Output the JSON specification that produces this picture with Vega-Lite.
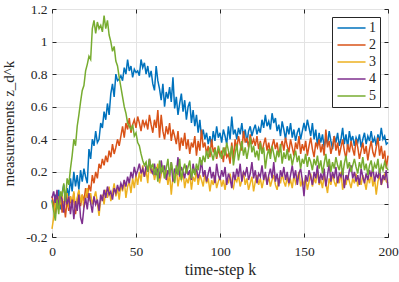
{
"$schema": "https://vega.github.io/schema/vega-lite/v6.json",
"width": 336, "height": 228,
"autosize": {"type": "none"},
"padding": {"left": 52, "top": 9, "right": 11, "bottom": 45},
"config": {
 "font": "Liberation Serif",
 "view": {"stroke": "#262626", "strokeWidth": 1},
 "axis": {"domain": false, "grid": true, "gridColor": "#e3e3e3", "gridWidth": 1, "tickColor": "#262626", "tickSize": -4, "labelFont": "Liberation Serif", "labelFontSize": 13.5, "labelColor": "#262626", "labelOverlap": false, "titleFont": "Liberation Serif", "titleFontSize": 16, "titleFontWeight": "normal", "titleColor": "#262626"},
 "legend": {"orient": "none", "legendX": 280, "legendY": 8, "title": null, "symbolType": "M-1,0H4.1", "symbolSize": 121, "symbolStrokeWidth": 1.5, "labelFont": "Liberation Serif", "labelFontSize": 14, "labelColor": "#262626", "labelAlign": "right", "labelOffset": 26, "fillColor": "white", "strokeColor": "#262626", "padding": 4, "rowPadding": 3}
},
"encoding": {
 "x": {"field": "k", "type": "quantitative", "scale": {"domain": [0, 200], "nice": false}, "axis": null},
 "y": {"field": "v", "type": "quantitative", "scale": {"domain": [-0.2, 1.2], "nice": false}, "axis": null}
},
"layer": [
   {"data": {"values": [
{"k":0,"v":0.03},{"k":1,"v":-0.02},{"k":2,"v":0.06},{"k":3,"v":0.01},{"k":4,"v":0.09},{"k":5,"v":-0.03},{"k":6,"v":0.07},{"k":7,"v":0.12},{"k":8,"v":0.02},{"k":9,"v":0.10},
{"k":10,"v":0.05},{"k":11,"v":0.16},{"k":12,"v":0.08},{"k":13,"v":0.20},{"k":14,"v":0.11},{"k":15,"v":0.18},{"k":16,"v":0.09},{"k":17,"v":0.21},{"k":18,"v":0.14},{"k":19,"v":0.22},
{"k":20,"v":0.17},{"k":21,"v":0.13},{"k":22,"v":0.34},{"k":23,"v":0.28},{"k":24,"v":0.40},{"k":25,"v":0.36},{"k":26,"v":0.45},{"k":27,"v":0.38},{"k":28,"v":0.40},{"k":29,"v":0.50},
{"k":30,"v":0.47},{"k":31,"v":0.57},{"k":32,"v":0.52},{"k":33,"v":0.62},{"k":34,"v":0.55},{"k":35,"v":0.68},{"k":36,"v":0.74},{"k":37,"v":0.66},{"k":38,"v":0.80},{"k":39,"v":0.76},
{"k":40,"v":0.77},{"k":41,"v":0.79},{"k":42,"v":0.76},{"k":43,"v":0.84},{"k":44,"v":0.80},{"k":45,"v":0.89},{"k":46,"v":0.82},{"k":47,"v":0.85},{"k":48,"v":0.78},{"k":49,"v":0.83},
{"k":50,"v":0.81},{"k":51,"v":0.82},{"k":52,"v":0.79},{"k":53,"v":0.89},{"k":54,"v":0.84},{"k":55,"v":0.87},{"k":56,"v":0.80},{"k":57,"v":0.85},{"k":58,"v":0.78},{"k":59,"v":0.82},
{"k":60,"v":0.74},{"k":61,"v":0.70},{"k":62,"v":0.85},{"k":63,"v":0.76},{"k":64,"v":0.71},{"k":65,"v":0.64},{"k":66,"v":0.74},{"k":67,"v":0.60},{"k":68,"v":0.69},{"k":69,"v":0.65},
{"k":70,"v":0.72},{"k":71,"v":0.63},{"k":72,"v":0.78},{"k":73,"v":0.59},{"k":74,"v":0.66},{"k":75,"v":0.55},{"k":76,"v":0.62},{"k":77,"v":0.68},{"k":78,"v":0.57},{"k":79,"v":0.64},
{"k":80,"v":0.52},{"k":81,"v":0.60},{"k":82,"v":0.63},{"k":83,"v":0.50},{"k":84,"v":0.58},{"k":85,"v":0.48},{"k":86,"v":0.55},{"k":87,"v":0.44},{"k":88,"v":0.52},{"k":89,"v":0.41},
{"k":90,"v":0.46},{"k":91,"v":0.40},{"k":92,"v":0.44},{"k":93,"v":0.37},{"k":94,"v":0.42},{"k":95,"v":0.36},{"k":96,"v":0.45},{"k":97,"v":0.39},{"k":98,"v":0.48},{"k":99,"v":0.41},
{"k":100,"v":0.44},{"k":101,"v":0.38},{"k":102,"v":0.46},{"k":103,"v":0.42},{"k":104,"v":0.37},{"k":105,"v":0.48},{"k":106,"v":0.40},{"k":107,"v":0.54},{"k":108,"v":0.43},{"k":109,"v":0.46},
{"k":110,"v":0.40},{"k":111,"v":0.47},{"k":112,"v":0.43},{"k":113,"v":0.50},{"k":114,"v":0.41},{"k":115,"v":0.46},{"k":116,"v":0.38},{"k":117,"v":0.45},{"k":118,"v":0.48},{"k":119,"v":0.42},
{"k":120,"v":0.46},{"k":121,"v":0.49},{"k":122,"v":0.43},{"k":123,"v":0.47},{"k":124,"v":0.44},{"k":125,"v":0.52},{"k":126,"v":0.47},{"k":127,"v":0.55},{"k":128,"v":0.48},{"k":129,"v":0.51},
{"k":130,"v":0.46},{"k":131,"v":0.56},{"k":132,"v":0.50},{"k":133,"v":0.53},{"k":134,"v":0.45},{"k":135,"v":0.49},{"k":136,"v":0.42},{"k":137,"v":0.51},{"k":138,"v":0.46},{"k":139,"v":0.40},
{"k":140,"v":0.48},{"k":141,"v":0.43},{"k":142,"v":0.50},{"k":143,"v":0.41},{"k":144,"v":0.46},{"k":145,"v":0.39},{"k":146,"v":0.44},{"k":147,"v":0.47},{"k":148,"v":0.40},{"k":149,"v":0.45},
{"k":150,"v":0.50},{"k":151,"v":0.45},{"k":152,"v":0.52},{"k":153,"v":0.47},{"k":154,"v":0.42},{"k":155,"v":0.50},{"k":156,"v":0.40},{"k":157,"v":0.46},{"k":158,"v":0.36},{"k":159,"v":0.44},
{"k":160,"v":0.38},{"k":161,"v":0.43},{"k":162,"v":0.35},{"k":163,"v":0.41},{"k":164,"v":0.37},{"k":165,"v":0.45},{"k":166,"v":0.39},{"k":167,"v":0.34},{"k":168,"v":0.42},{"k":169,"v":0.38},
{"k":170,"v":0.44},{"k":171,"v":0.36},{"k":172,"v":0.40},{"k":173,"v":0.47},{"k":174,"v":0.37},{"k":175,"v":0.43},{"k":176,"v":0.35},{"k":177,"v":0.45},{"k":178,"v":0.39},{"k":179,"v":0.42},
{"k":180,"v":0.36},{"k":181,"v":0.41},{"k":182,"v":0.38},{"k":183,"v":0.43},{"k":184,"v":0.35},{"k":185,"v":0.40},{"k":186,"v":0.44},{"k":187,"v":0.37},{"k":188,"v":0.42},{"k":189,"v":0.39},
{"k":190,"v":0.45},{"k":191,"v":0.38},{"k":192,"v":0.41},{"k":193,"v":0.36},{"k":194,"v":0.43},{"k":195,"v":0.39},{"k":196,"v":0.47},{"k":197,"v":0.40},{"k":198,"v":0.42},{"k":199,"v":0.37},{"k":200,"v":0.38}
   ]},
   "mark": {"type": "line", "strokeWidth": 1.5},
   "encoding": {
    "x": {"field": "k", "type": "quantitative", "axis": {"values": [0, 50, 100, 150, 200], "title": "time-step k", "titlePadding": 4, "labelPadding": 11, "labelFont": "Liberation Serif", "labelOverlap": false, "labelFlush": false}},
    "y": {"field": "v", "type": "quantitative", "axis": {"values": [-0.2, 0, 0.2, 0.4, 0.6, 0.8, 1, 1.2], "labelExpr": "'' + datum.value", "labelPadding": 9, "labelFont": "Liberation Serif", "labelOverlap": false, "labelFlush": false, "title": "measurements z_d^k", "titleFontSize": 15, "titlePadding": 9}},
    "color": {"datum": "1", "type": "nominal", "scale": {"domain": ["1", "2", "3", "4", "5"], "range": ["#0072BD", "#D95319", "#EDB120", "#7E2F8E", "#77AC30"]}}
   }},
   {"data": {"values": [
{"k":0,"v":0.05},{"k":1,"v":0.00},{"k":2,"v":-0.06},{"k":3,"v":0.04},{"k":4,"v":-0.03},{"k":5,"v":0.06},{"k":6,"v":-0.05},{"k":7,"v":0.02},{"k":8,"v":-0.08},{"k":9,"v":0.03},
{"k":10,"v":-0.04},{"k":11,"v":0.05},{"k":12,"v":-0.02},{"k":13,"v":0.07},{"k":14,"v":-0.06},{"k":15,"v":0.03},{"k":16,"v":0.08},{"k":17,"v":-0.01},{"k":18,"v":0.06},{"k":19,"v":0.02},
{"k":20,"v":0.10},{"k":21,"v":0.04},{"k":22,"v":0.12},{"k":23,"v":0.08},{"k":24,"v":0.18},{"k":25,"v":0.13},{"k":26,"v":0.20},{"k":27,"v":0.16},{"k":28,"v":0.25},{"k":29,"v":0.22},
{"k":30,"v":0.28},{"k":31,"v":0.24},{"k":32,"v":0.30},{"k":33,"v":0.26},{"k":34,"v":0.33},{"k":35,"v":0.29},{"k":36,"v":0.37},{"k":37,"v":0.31},{"k":38,"v":0.35},{"k":39,"v":0.40},
{"k":40,"v":0.36},{"k":41,"v":0.42},{"k":42,"v":0.48},{"k":43,"v":0.41},{"k":44,"v":0.50},{"k":45,"v":0.46},{"k":46,"v":0.53},{"k":47,"v":0.44},{"k":48,"v":0.49},{"k":49,"v":0.52},
{"k":50,"v":0.47},{"k":51,"v":0.54},{"k":52,"v":0.50},{"k":53,"v":0.45},{"k":54,"v":0.52},{"k":55,"v":0.48},{"k":56,"v":0.51},{"k":57,"v":0.46},{"k":58,"v":0.55},{"k":59,"v":0.49},
{"k":60,"v":0.44},{"k":61,"v":0.52},{"k":62,"v":0.47},{"k":63,"v":0.58},{"k":64,"v":0.41},{"k":65,"v":0.55},{"k":66,"v":0.45},{"k":67,"v":0.40},{"k":68,"v":0.48},{"k":69,"v":0.43},
{"k":70,"v":0.50},{"k":71,"v":0.39},{"k":72,"v":0.46},{"k":73,"v":0.42},{"k":74,"v":0.37},{"k":75,"v":0.45},{"k":76,"v":0.33},{"k":77,"v":0.41},{"k":78,"v":0.36},{"k":79,"v":0.44},
{"k":80,"v":0.34},{"k":81,"v":0.40},{"k":82,"v":0.31},{"k":83,"v":0.38},{"k":84,"v":0.35},{"k":85,"v":0.42},{"k":86,"v":0.30},{"k":87,"v":0.39},{"k":88,"v":0.33},{"k":89,"v":0.46},
{"k":90,"v":0.35},{"k":91,"v":0.38},{"k":92,"v":0.31},{"k":93,"v":0.36},{"k":94,"v":0.29},{"k":95,"v":0.40},{"k":96,"v":0.32},{"k":97,"v":0.35},{"k":98,"v":0.28},{"k":99,"v":0.34},
{"k":100,"v":0.30},{"k":101,"v":0.33},{"k":102,"v":0.26},{"k":103,"v":0.35},{"k":104,"v":0.29},{"k":105,"v":0.31},{"k":106,"v":0.25},{"k":107,"v":0.38},{"k":108,"v":0.28},{"k":109,"v":0.40},
{"k":110,"v":0.34},{"k":111,"v":0.42},{"k":112,"v":0.37},{"k":113,"v":0.33},{"k":114,"v":0.45},{"k":115,"v":0.38},{"k":116,"v":0.41},{"k":117,"v":0.35},{"k":118,"v":0.43},{"k":119,"v":0.37},
{"k":120,"v":0.40},{"k":121,"v":0.36},{"k":122,"v":0.42},{"k":123,"v":0.34},{"k":124,"v":0.39},{"k":125,"v":0.32},{"k":126,"v":0.37},{"k":127,"v":0.41},{"k":128,"v":0.33},{"k":129,"v":0.38},
{"k":130,"v":0.31},{"k":131,"v":0.36},{"k":132,"v":0.40},{"k":133,"v":0.34},{"k":134,"v":0.38},{"k":135,"v":0.30},{"k":136,"v":0.35},{"k":137,"v":0.39},{"k":138,"v":0.33},{"k":139,"v":0.41},
{"k":140,"v":0.36},{"k":141,"v":0.32},{"k":142,"v":0.40},{"k":143,"v":0.35},{"k":144,"v":0.30},{"k":145,"v":0.38},{"k":146,"v":0.34},{"k":147,"v":0.42},{"k":148,"v":0.31},{"k":149,"v":0.37},
{"k":150,"v":0.33},{"k":151,"v":0.39},{"k":152,"v":0.30},{"k":153,"v":0.36},{"k":154,"v":0.41},{"k":155,"v":0.34},{"k":156,"v":0.29},{"k":157,"v":0.38},{"k":158,"v":0.35},{"k":159,"v":0.40},
{"k":160,"v":0.32},{"k":161,"v":0.37},{"k":162,"v":0.30},{"k":163,"v":0.46},{"k":164,"v":0.35},{"k":165,"v":0.39},{"k":166,"v":0.31},{"k":167,"v":0.36},{"k":168,"v":0.42},{"k":169,"v":0.33},
{"k":170,"v":0.38},{"k":171,"v":0.30},{"k":172,"v":0.35},{"k":173,"v":0.40},{"k":174,"v":0.33},{"k":175,"v":0.28},{"k":176,"v":0.37},{"k":177,"v":0.32},{"k":178,"v":0.39},{"k":179,"v":0.34},
{"k":180,"v":0.30},{"k":181,"v":0.40},{"k":182,"v":0.35},{"k":183,"v":0.28},{"k":184,"v":0.33},{"k":185,"v":0.38},{"k":186,"v":0.31},{"k":187,"v":0.36},{"k":188,"v":0.27},{"k":189,"v":0.34},
{"k":190,"v":0.39},{"k":191,"v":0.32},{"k":192,"v":0.29},{"k":193,"v":0.35},{"k":194,"v":0.41},{"k":195,"v":0.30},{"k":196,"v":0.36},{"k":197,"v":0.28},{"k":198,"v":0.33},{"k":199,"v":0.22},{"k":200,"v":0.30}
   ]},
   "mark": {"type": "line", "strokeWidth": 1.5},
   "encoding": {"color": {"datum": "2", "type": "nominal"}}},
   {"data": {"values": [
{"k":0,"v":-0.15},{"k":1,"v":-0.08},{"k":2,"v":0.02},{"k":3,"v":-0.03},{"k":4,"v":0.05},{"k":5,"v":0.00},{"k":6,"v":0.08},{"k":7,"v":-0.04},{"k":8,"v":0.03},{"k":9,"v":0.07},
{"k":10,"v":-0.02},{"k":11,"v":0.05},{"k":12,"v":0.00},{"k":13,"v":0.08},{"k":14,"v":-0.03},{"k":15,"v":0.04},{"k":16,"v":0.09},{"k":17,"v":0.01},{"k":18,"v":0.06},{"k":19,"v":-0.02},
{"k":20,"v":0.05},{"k":21,"v":0.10},{"k":22,"v":0.02},{"k":23,"v":0.07},{"k":24,"v":0.00},{"k":25,"v":0.04},{"k":26,"v":0.08},{"k":27,"v":0.01},{"k":28,"v":-0.07},{"k":29,"v":0.03},
{"k":30,"v":0.06},{"k":31,"v":0.00},{"k":32,"v":0.09},{"k":33,"v":0.04},{"k":34,"v":0.11},{"k":35,"v":0.02},{"k":36,"v":0.07},{"k":37,"v":0.13},{"k":38,"v":0.05},{"k":39,"v":0.10},
{"k":40,"v":0.03},{"k":41,"v":0.12},{"k":42,"v":0.08},{"k":43,"v":0.15},{"k":44,"v":0.04},{"k":45,"v":0.11},{"k":46,"v":0.14},{"k":47,"v":0.07},{"k":48,"v":0.16},{"k":49,"v":0.10},
{"k":50,"v":0.18},{"k":51,"v":0.12},{"k":52,"v":0.20},{"k":53,"v":0.14},{"k":54,"v":0.24},{"k":55,"v":0.17},{"k":56,"v":0.21},{"k":57,"v":0.13},{"k":58,"v":0.27},{"k":59,"v":0.19},
{"k":60,"v":0.22},{"k":61,"v":0.15},{"k":62,"v":0.20},{"k":63,"v":0.25},{"k":64,"v":0.13},{"k":65,"v":0.18},{"k":66,"v":0.23},{"k":67,"v":0.16},{"k":68,"v":0.21},{"k":69,"v":0.12},
{"k":70,"v":0.19},{"k":71,"v":0.06},{"k":72,"v":0.17},{"k":73,"v":0.14},{"k":74,"v":0.22},{"k":75,"v":0.11},{"k":76,"v":0.18},{"k":77,"v":0.15},{"k":78,"v":0.20},{"k":79,"v":0.10},
{"k":80,"v":0.16},{"k":81,"v":0.13},{"k":82,"v":0.19},{"k":83,"v":0.09},{"k":84,"v":0.17},{"k":85,"v":0.14},{"k":86,"v":0.21},{"k":87,"v":0.12},{"k":88,"v":0.18},{"k":89,"v":0.15},
{"k":90,"v":0.11},{"k":91,"v":0.19},{"k":92,"v":0.13},{"k":93,"v":0.16},{"k":94,"v":0.08},{"k":95,"v":0.15},{"k":96,"v":0.12},{"k":97,"v":0.18},{"k":98,"v":0.10},{"k":99,"v":0.14},
{"k":100,"v":0.17},{"k":101,"v":0.11},{"k":102,"v":0.15},{"k":103,"v":0.09},{"k":104,"v":0.16},{"k":105,"v":0.13},{"k":106,"v":0.19},{"k":107,"v":0.12},{"k":108,"v":0.10},{"k":109,"v":0.16},
{"k":110,"v":0.14},{"k":111,"v":0.18},{"k":112,"v":0.11},{"k":113,"v":0.15},{"k":114,"v":0.20},{"k":115,"v":0.12},{"k":116,"v":0.16},{"k":117,"v":0.09},{"k":118,"v":0.13},{"k":119,"v":0.17},
{"k":120,"v":0.08},{"k":121,"v":0.14},{"k":122,"v":0.18},{"k":123,"v":0.12},{"k":124,"v":0.16},{"k":125,"v":0.10},{"k":126,"v":0.15},{"k":127,"v":0.19},{"k":128,"v":0.13},{"k":129,"v":0.17},
{"k":130,"v":0.11},{"k":131,"v":0.15},{"k":132,"v":0.18},{"k":133,"v":0.12},{"k":134,"v":0.09},{"k":135,"v":0.16},{"k":136,"v":0.13},{"k":137,"v":0.19},{"k":138,"v":0.14},{"k":139,"v":0.11},
{"k":140,"v":0.17},{"k":141,"v":0.12},{"k":142,"v":0.15},{"k":143,"v":0.10},{"k":144,"v":0.18},{"k":145,"v":0.13},{"k":146,"v":0.16},{"k":147,"v":0.20},{"k":148,"v":0.11},{"k":149,"v":0.15},
{"k":150,"v":0.12},{"k":151,"v":0.17},{"k":152,"v":0.09},{"k":153,"v":0.14},{"k":154,"v":0.19},{"k":155,"v":0.11},{"k":156,"v":0.16},{"k":157,"v":0.13},{"k":158,"v":0.21},{"k":159,"v":0.12},
{"k":160,"v":0.15},{"k":161,"v":0.10},{"k":162,"v":0.18},{"k":163,"v":0.13},{"k":164,"v":0.07},{"k":165,"v":0.16},{"k":166,"v":0.12},{"k":167,"v":0.19},{"k":168,"v":0.14},{"k":169,"v":0.11},
{"k":170,"v":0.17},{"k":171,"v":0.13},{"k":172,"v":0.20},{"k":173,"v":0.09},{"k":174,"v":0.15},{"k":175,"v":0.12},{"k":176,"v":0.18},{"k":177,"v":0.14},{"k":178,"v":0.10},{"k":179,"v":0.16},
{"k":180,"v":0.13},{"k":181,"v":0.19},{"k":182,"v":0.11},{"k":183,"v":0.16},{"k":184,"v":0.12},{"k":185,"v":0.18},{"k":186,"v":0.14},{"k":187,"v":0.09},{"k":188,"v":0.17},{"k":189,"v":0.13},
{"k":190,"v":0.20},{"k":191,"v":0.11},{"k":192,"v":0.16},{"k":193,"v":0.06},{"k":194,"v":0.14},{"k":195,"v":0.18},{"k":196,"v":0.12},{"k":197,"v":0.15},{"k":198,"v":0.19},{"k":199,"v":0.14},{"k":200,"v":0.13}
   ]},
   "mark": {"type": "line", "strokeWidth": 1.5},
   "encoding": {"color": {"datum": "3", "type": "nominal"}}},
   {"data": {"values": [
{"k":0,"v":0.04},{"k":1,"v":0.08},{"k":2,"v":0.01},{"k":3,"v":0.09},{"k":4,"v":-0.02},{"k":5,"v":0.06},{"k":6,"v":0.03},{"k":7,"v":-0.05},{"k":8,"v":0.07},{"k":9,"v":0.00},
{"k":10,"v":0.05},{"k":11,"v":-0.06},{"k":12,"v":0.03},{"k":13,"v":-0.09},{"k":14,"v":0.02},{"k":15,"v":-0.04},{"k":16,"v":0.06},{"k":17,"v":-0.08},{"k":18,"v":-0.12},{"k":19,"v":-0.02},
{"k":20,"v":0.04},{"k":21,"v":-0.03},{"k":22,"v":0.07},{"k":23,"v":0.01},{"k":24,"v":-0.05},{"k":25,"v":0.05},{"k":26,"v":0.00},{"k":27,"v":0.03},{"k":28,"v":-0.04},{"k":29,"v":0.06},
{"k":30,"v":0.02},{"k":31,"v":0.09},{"k":32,"v":0.04},{"k":33,"v":0.11},{"k":34,"v":0.06},{"k":35,"v":0.08},{"k":36,"v":0.03},{"k":37,"v":0.10},{"k":38,"v":0.07},{"k":39,"v":0.12},
{"k":40,"v":0.08},{"k":41,"v":0.13},{"k":42,"v":0.10},{"k":43,"v":0.15},{"k":44,"v":0.11},{"k":45,"v":0.17},{"k":46,"v":0.13},{"k":47,"v":0.20},{"k":48,"v":0.16},{"k":49,"v":0.23},
{"k":50,"v":0.18},{"k":51,"v":0.21},{"k":52,"v":0.25},{"k":53,"v":0.19},{"k":54,"v":0.22},{"k":55,"v":0.17},{"k":56,"v":0.24},{"k":57,"v":0.20},{"k":58,"v":0.28},{"k":59,"v":0.21},
{"k":60,"v":0.19},{"k":61,"v":0.25},{"k":62,"v":0.18},{"k":63,"v":0.22},{"k":64,"v":0.16},{"k":65,"v":0.27},{"k":66,"v":0.20},{"k":67,"v":0.24},{"k":68,"v":0.15},{"k":69,"v":0.21},
{"k":70,"v":0.18},{"k":71,"v":0.26},{"k":72,"v":0.14},{"k":73,"v":0.22},{"k":74,"v":0.19},{"k":75,"v":0.29},{"k":76,"v":0.17},{"k":77,"v":0.23},{"k":78,"v":0.20},{"k":79,"v":0.16},
{"k":80,"v":0.24},{"k":81,"v":0.18},{"k":82,"v":0.21},{"k":83,"v":0.15},{"k":84,"v":0.25},{"k":85,"v":0.19},{"k":86,"v":0.22},{"k":87,"v":0.16},{"k":88,"v":0.20},{"k":89,"v":0.27},
{"k":90,"v":0.17},{"k":91,"v":0.21},{"k":92,"v":0.14},{"k":93,"v":0.19},{"k":94,"v":0.23},{"k":95,"v":0.16},{"k":96,"v":0.20},{"k":97,"v":0.13},{"k":98,"v":0.25},{"k":99,"v":0.18},
{"k":100,"v":0.15},{"k":101,"v":0.21},{"k":102,"v":0.17},{"k":103,"v":0.23},{"k":104,"v":0.12},{"k":105,"v":0.19},{"k":106,"v":0.16},{"k":107,"v":0.10},{"k":108,"v":0.20},{"k":109,"v":0.15},
{"k":110,"v":0.22},{"k":111,"v":0.17},{"k":112,"v":0.25},{"k":113,"v":0.14},{"k":114,"v":0.20},{"k":115,"v":0.18},{"k":116,"v":0.23},{"k":117,"v":0.15},{"k":118,"v":0.19},{"k":119,"v":0.26},
{"k":120,"v":0.16},{"k":121,"v":0.21},{"k":122,"v":0.13},{"k":123,"v":0.19},{"k":124,"v":0.17},{"k":125,"v":0.24},{"k":126,"v":0.15},{"k":127,"v":0.20},{"k":128,"v":0.12},{"k":129,"v":0.18},
{"k":130,"v":0.22},{"k":131,"v":0.16},{"k":132,"v":0.26},{"k":133,"v":0.14},{"k":134,"v":0.19},{"k":135,"v":0.11},{"k":136,"v":0.21},{"k":137,"v":0.17},{"k":138,"v":0.23},{"k":139,"v":0.15},
{"k":140,"v":0.20},{"k":141,"v":0.13},{"k":142,"v":0.18},{"k":143,"v":0.24},{"k":144,"v":0.16},{"k":145,"v":0.21},{"k":146,"v":0.12},{"k":147,"v":0.19},{"k":148,"v":0.22},{"k":149,"v":0.15},
{"k":150,"v":0.05},{"k":151,"v":0.18},{"k":152,"v":0.14},{"k":153,"v":0.21},{"k":154,"v":0.17},{"k":155,"v":0.12},{"k":156,"v":0.20},{"k":157,"v":0.16},{"k":158,"v":0.24},{"k":159,"v":0.13},
{"k":160,"v":0.19},{"k":161,"v":0.15},{"k":162,"v":0.22},{"k":163,"v":0.11},{"k":164,"v":0.18},{"k":165,"v":0.25},{"k":166,"v":0.14},{"k":167,"v":0.20},{"k":168,"v":0.16},{"k":169,"v":0.23},
{"k":170,"v":0.13},{"k":171,"v":0.19},{"k":172,"v":0.17},{"k":173,"v":0.22},{"k":174,"v":0.10},{"k":175,"v":0.18},{"k":176,"v":0.15},{"k":177,"v":0.21},{"k":178,"v":0.24},{"k":179,"v":0.16},
{"k":180,"v":0.20},{"k":181,"v":0.14},{"k":182,"v":0.18},{"k":183,"v":0.12},{"k":184,"v":0.22},{"k":185,"v":0.17},{"k":186,"v":0.13},{"k":187,"v":0.19},{"k":188,"v":0.15},{"k":189,"v":0.21},
{"k":190,"v":0.17},{"k":191,"v":0.23},{"k":192,"v":0.14},{"k":193,"v":0.19},{"k":194,"v":0.16},{"k":195,"v":0.22},{"k":196,"v":0.12},{"k":197,"v":0.18},{"k":198,"v":0.15},{"k":199,"v":0.21},{"k":200,"v":0.10}
   ]},
   "mark": {"type": "line", "strokeWidth": 1.5},
   "encoding": {"color": {"datum": "4", "type": "nominal"}}},
   {"data": {"values": [
{"k":0,"v":0.02},{"k":1,"v":-0.04},{"k":2,"v":-0.10},{"k":3,"v":0.03},{"k":4,"v":-0.06},{"k":5,"v":0.08},{"k":6,"v":0.05},{"k":7,"v":0.13},{"k":8,"v":0.02},{"k":9,"v":0.16},
{"k":10,"v":0.12},{"k":11,"v":0.22},{"k":12,"v":0.30},{"k":13,"v":0.40},{"k":14,"v":0.36},{"k":15,"v":0.48},{"k":16,"v":0.55},{"k":17,"v":0.63},{"k":18,"v":0.70},{"k":19,"v":0.73},
{"k":20,"v":0.82},{"k":21,"v":0.86},{"k":22,"v":0.91},{"k":23,"v":0.89},{"k":24,"v":1.08},{"k":25,"v":1.13},{"k":26,"v":1.05},{"k":27,"v":1.12},{"k":28,"v":1.08},{"k":29,"v":1.10},
{"k":30,"v":1.06},{"k":31,"v":1.16},{"k":32,"v":1.08},{"k":33,"v":1.13},{"k":34,"v":1.04},{"k":35,"v":1.00},{"k":36,"v":0.94},{"k":37,"v":0.97},{"k":38,"v":0.88},{"k":39,"v":0.85},
{"k":40,"v":0.78},{"k":41,"v":0.72},{"k":42,"v":0.66},{"k":43,"v":0.60},{"k":44,"v":0.56},{"k":45,"v":0.50},{"k":46,"v":0.48},{"k":47,"v":0.46},{"k":48,"v":0.49},{"k":49,"v":0.42},
{"k":50,"v":0.44},{"k":51,"v":0.38},{"k":52,"v":0.36},{"k":53,"v":0.31},{"k":54,"v":0.27},{"k":55,"v":0.24},{"k":56,"v":0.26},{"k":57,"v":0.20},{"k":58,"v":0.28},{"k":59,"v":0.22},
{"k":60,"v":0.25},{"k":61,"v":0.18},{"k":62,"v":0.23},{"k":63,"v":0.14},{"k":64,"v":0.27},{"k":65,"v":0.19},{"k":66,"v":0.24},{"k":67,"v":0.16},{"k":68,"v":0.22},{"k":69,"v":0.28},
{"k":70,"v":0.17},{"k":71,"v":0.26},{"k":72,"v":0.20},{"k":73,"v":0.13},{"k":74,"v":0.24},{"k":75,"v":0.18},{"k":76,"v":0.28},{"k":77,"v":0.15},{"k":78,"v":0.21},{"k":79,"v":0.25},
{"k":80,"v":0.19},{"k":81,"v":0.23},{"k":82,"v":0.27},{"k":83,"v":0.16},{"k":84,"v":0.22},{"k":85,"v":0.18},{"k":86,"v":0.25},{"k":87,"v":0.21},{"k":88,"v":0.29},{"k":89,"v":0.24},
{"k":90,"v":0.30},{"k":91,"v":0.26},{"k":92,"v":0.33},{"k":93,"v":0.28},{"k":94,"v":0.35},{"k":95,"v":0.31},{"k":96,"v":0.27},{"k":97,"v":0.34},{"k":98,"v":0.29},{"k":99,"v":0.36},
{"k":100,"v":0.32},{"k":101,"v":0.28},{"k":102,"v":0.35},{"k":103,"v":0.30},{"k":104,"v":0.38},{"k":105,"v":0.33},{"k":106,"v":0.29},{"k":107,"v":0.36},{"k":108,"v":0.24},{"k":109,"v":0.31},
{"k":110,"v":0.37},{"k":111,"v":0.27},{"k":112,"v":0.33},{"k":113,"v":0.39},{"k":114,"v":0.30},{"k":115,"v":0.35},{"k":116,"v":0.28},{"k":117,"v":0.34},{"k":118,"v":0.41},{"k":119,"v":0.32},
{"k":120,"v":0.36},{"k":121,"v":0.29},{"k":122,"v":0.33},{"k":123,"v":0.27},{"k":124,"v":0.38},{"k":125,"v":0.31},{"k":126,"v":0.35},{"k":127,"v":0.22},{"k":128,"v":0.30},{"k":129,"v":0.34},
{"k":130,"v":0.28},{"k":131,"v":0.36},{"k":132,"v":0.31},{"k":133,"v":0.26},{"k":134,"v":0.33},{"k":135,"v":0.29},{"k":136,"v":0.37},{"k":137,"v":0.25},{"k":138,"v":0.32},{"k":139,"v":0.28},
{"k":140,"v":0.34},{"k":141,"v":0.27},{"k":142,"v":0.31},{"k":143,"v":0.24},{"k":144,"v":0.29},{"k":145,"v":0.33},{"k":146,"v":0.26},{"k":147,"v":0.30},{"k":148,"v":0.22},{"k":149,"v":0.28},
{"k":150,"v":0.25},{"k":151,"v":0.31},{"k":152,"v":0.23},{"k":153,"v":0.29},{"k":154,"v":0.26},{"k":155,"v":0.21},{"k":156,"v":0.28},{"k":157,"v":0.24},{"k":158,"v":0.30},{"k":159,"v":0.22},
{"k":160,"v":0.27},{"k":161,"v":0.19},{"k":162,"v":0.25},{"k":163,"v":0.31},{"k":164,"v":0.23},{"k":165,"v":0.28},{"k":166,"v":0.20},{"k":167,"v":0.26},{"k":168,"v":0.22},{"k":169,"v":0.29},
{"k":170,"v":0.24},{"k":171,"v":0.21},{"k":172,"v":0.27},{"k":173,"v":0.18},{"k":174,"v":0.25},{"k":175,"v":0.30},{"k":176,"v":0.22},{"k":177,"v":0.26},{"k":178,"v":0.20},{"k":179,"v":0.24},
{"k":180,"v":0.28},{"k":181,"v":0.23},{"k":182,"v":0.19},{"k":183,"v":0.26},{"k":184,"v":0.22},{"k":185,"v":0.29},{"k":186,"v":0.21},{"k":187,"v":0.25},{"k":188,"v":0.18},{"k":189,"v":0.24},
{"k":190,"v":0.27},{"k":191,"v":0.20},{"k":192,"v":0.25},{"k":193,"v":0.22},{"k":194,"v":0.28},{"k":195,"v":0.19},{"k":196,"v":0.24},{"k":197,"v":0.21},{"k":198,"v":0.26},{"k":199,"v":0.23},{"k":200,"v":0.21}
   ]},
   "mark": {"type": "line", "strokeWidth": 1.5},
   "encoding": {"color": {"datum": "5", "type": "nominal"}}},
 {
  "data": {"values": [{"k": 0, "v": 0}]},
  "mark": {"type": "point", "opacity": 0},
  "encoding": {
   "x": {"field": "k", "type": "quantitative", "axis": {"orient": "top", "values": [0, 50, 100, 150, 200], "labels": false, "grid": false, "title": null}},
   "y": {"field": "v", "type": "quantitative", "axis": {"orient": "right", "values": [-0.2, 0, 0.2, 0.4, 0.6, 0.8, 1, 1.2], "labels": false, "grid": false, "title": null}}
  }
 }
],
"resolve": {"axis": {"x": "independent", "y": "independent"}}
}
